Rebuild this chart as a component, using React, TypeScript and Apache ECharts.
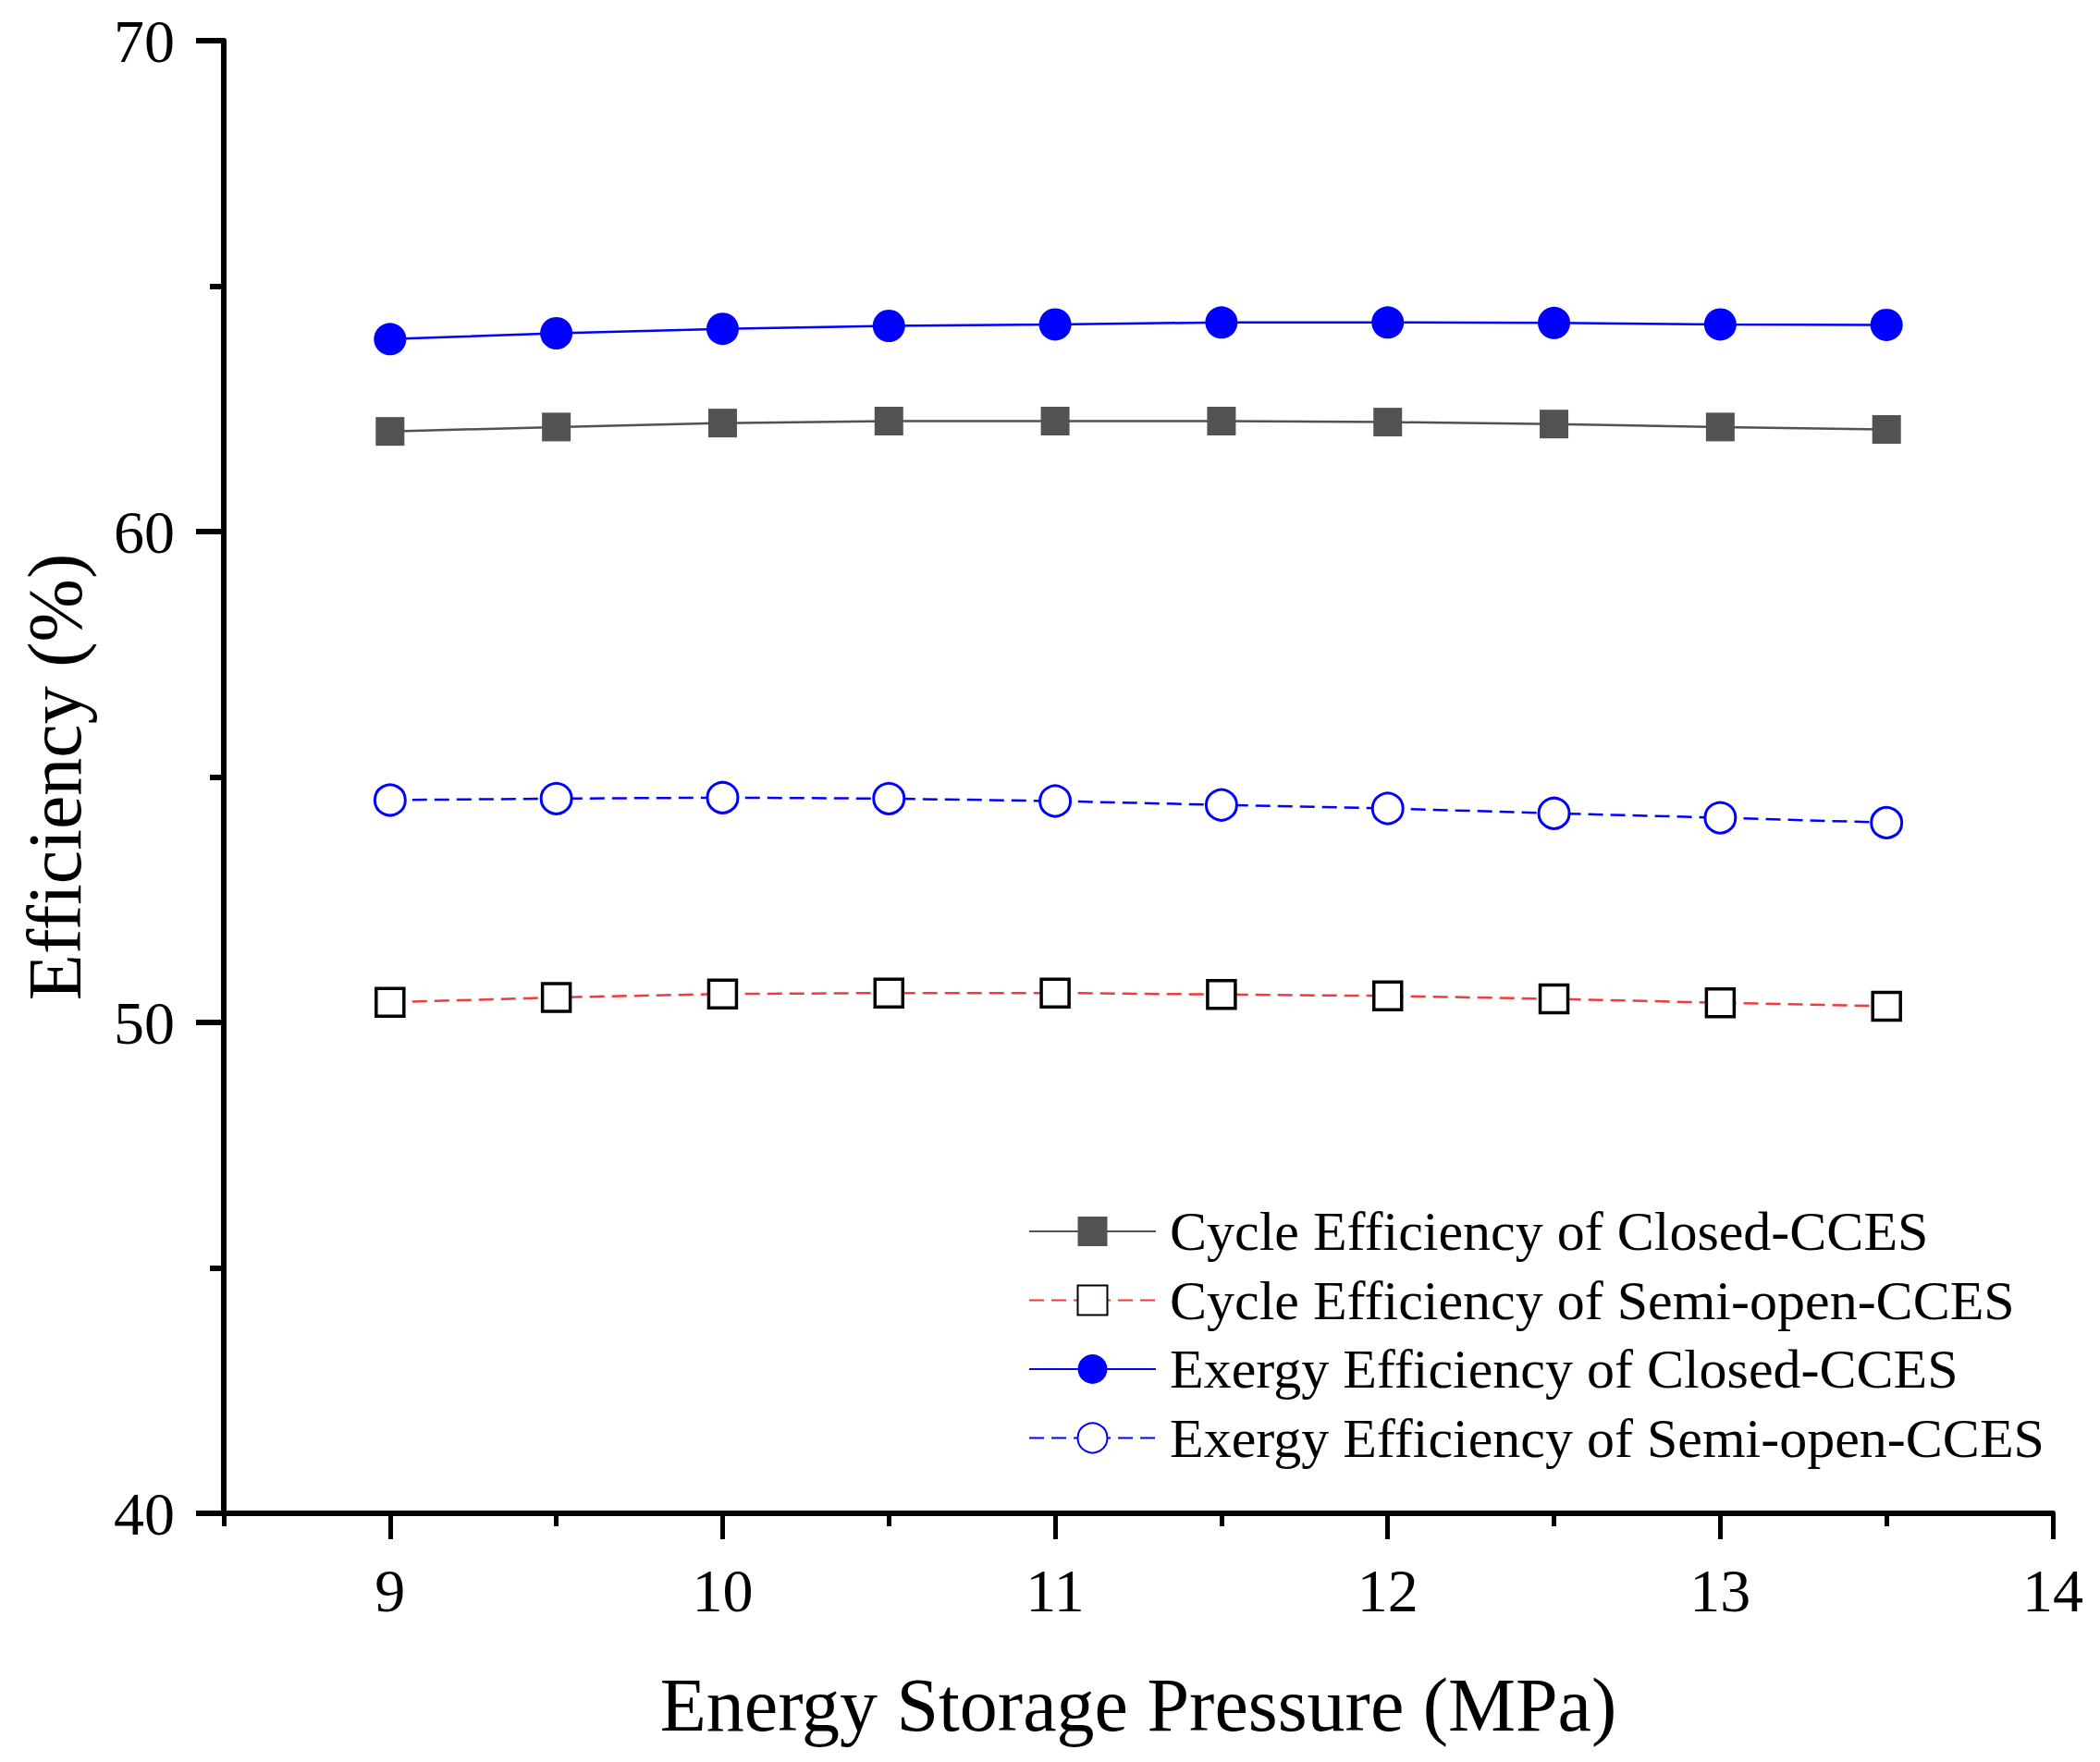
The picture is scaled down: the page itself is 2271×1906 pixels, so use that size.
import React, { useEffect, useRef } from "react";
import * as echarts from "echarts";

const pressure = [9, 9.5, 10, 10.5, 11, 11.5, 12, 12.5, 13, 13.5];
const cycleClosed = [62.04, 62.13, 62.21, 62.25, 62.25, 62.25, 62.23, 62.19, 62.13, 62.08];
const cycleSemi = [50.41, 50.51, 50.58, 50.6, 50.6, 50.57, 50.54, 50.48, 50.4, 50.33];
const exergyClosed = [63.92, 64.04, 64.13, 64.19, 64.22, 64.26, 64.26, 64.25, 64.22, 64.21];
const exergySemi = [54.53, 54.56, 54.58, 54.56, 54.51, 54.43, 54.36, 54.26, 54.17, 54.07];

const seriesNames = [
  "Cycle Efficiency of Closed-CCES",
  "Cycle Efficiency of Semi-open-CCES",
  "Exergy Efficiency of Closed-CCES",
  "Exergy Efficiency of Semi-open-CCES",
];
const xMajorTicks = [9, 10, 11, 12, 13, 14];
const xMinorTicks = [8.5, 9.5, 10.5, 11.5, 12.5, 13.5];

const FONT = "'Liberation Serif', 'Times New Roman', serif";

export default function App() {
  const ref = useRef<HTMLDivElement>(null);
  useEffect(() => {
    if (!ref.current) return;
    const chart = echarts.init(ref.current, null, { renderer: "svg" });
    const pair = (ys: number[]) => pressure.map((x, i) => [x, ys[i]]);
    chart.setOption({
      animation: false,
      backgroundColor: "#ffffff",
      grid: { left: 242, right: 51, top: 44, bottom: 269, containLabel: false, outerBoundsMode: "none" },
      legend: {
        orient: "vertical",
        left: 1112,
        top: 1302,
        padding: 0,
        itemWidth: 137,
        itemHeight: 40,
        itemGap: 14.5,
        selectedMode: false,
        data: seriesNames,
        textStyle: { fontFamily: FONT, fontSize: 60, lineHeight: 60, color: "#000", padding: [0, 0, 0, 10] },
      },
      xAxis: [
        {
          type: "value",
          min: 8.5,
          max: 14,
          name: "Energy Storage Pressure (MPa)",
          nameLocation: "middle",
          nameGap: 166,
          nameTextStyle: { fontFamily: FONT, fontSize: 82, color: "#000" },
          axisLine: { show: true, onZero: false, lineStyle: { color: "#000", width: 6 } },
          axisTick: { show: true, length: 28, customValues: xMajorTicks, lineStyle: { color: "#000", width: 5 } },
          axisLabel: { customValues: xMajorTicks, margin: 50, fontFamily: FONT, fontSize: 66, color: "#000" },
          splitLine: { show: false },
        },
        {
          type: "value",
          min: 8.5,
          max: 14,
          position: "bottom",
          axisLine: { show: false, onZero: false },
          axisTick: { show: true, length: 14, customValues: xMinorTicks, lineStyle: { color: "#000", width: 5 } },
          axisLabel: { show: false },
          splitLine: { show: false },
        },
      ],
      yAxis: {
        type: "value",
        min: 40,
        max: 70,
        interval: 10,
        name: "Efficiency (%)",
        nameLocation: "middle",
        nameGap: 142,
        nameTextStyle: { fontFamily: FONT, fontSize: 82, color: "#000" },
        axisLine: { show: true, onZero: false, lineStyle: { color: "#000", width: 6 } },
        axisTick: { show: true, length: 30, lineStyle: { color: "#000", width: 6 } },
        minorTick: { show: true, splitNumber: 2, length: 15, lineStyle: { color: "#000", width: 6 } },
        axisLabel: { margin: 53, fontFamily: FONT, fontSize: 66, color: "#000" },
        splitLine: { show: false },
        minorSplitLine: { show: false },
      },
      series: [
        {
          name: seriesNames[0],
          type: "line",
          data: pair(cycleClosed),
          symbol: "rect",
          symbolSize: 31,
          lineStyle: { color: "#525252", width: 2.5, type: "solid" },
          itemStyle: { color: "#525252", borderWidth: 0 },
          color: "#525252",
        },
        {
          name: seriesNames[1],
          type: "line",
          data: pair(cycleSemi),
          symbol: "rect",
          symbolSize: 30,
          lineStyle: { color: "#f03c3c", width: 2.5, type: [16, 8] },
          itemStyle: { color: "#ffffff", borderColor: "#000000", borderWidth: 3.5 },
          color: "#ffffff",
        },
        {
          name: seriesNames[2],
          type: "line",
          data: pair(exergyClosed),
          symbol: "circle",
          symbolSize: 35,
          lineStyle: { color: "#0000ff", width: 2.5, type: "solid" },
          itemStyle: { color: "#0000ff", borderWidth: 0 },
          color: "#0000ff",
        },
        {
          name: seriesNames[3],
          type: "line",
          data: pair(exergySemi),
          symbol: "circle",
          symbolSize: 33,
          lineStyle: { color: "#0000ff", width: 2.5, type: [16, 8] },
          itemStyle: { color: "#ffffff", borderColor: "#0000ff", borderWidth: 3 },
          color: "#ffffff",
        },
      ],
    });
    return () => chart.dispose();
  }, []);
  return (
    <div
      ref={ref}
      style={{ position: "absolute", left: 0, top: 0, width: 2271, height: 1906, background: "#fff" }}
    />
  );
}
